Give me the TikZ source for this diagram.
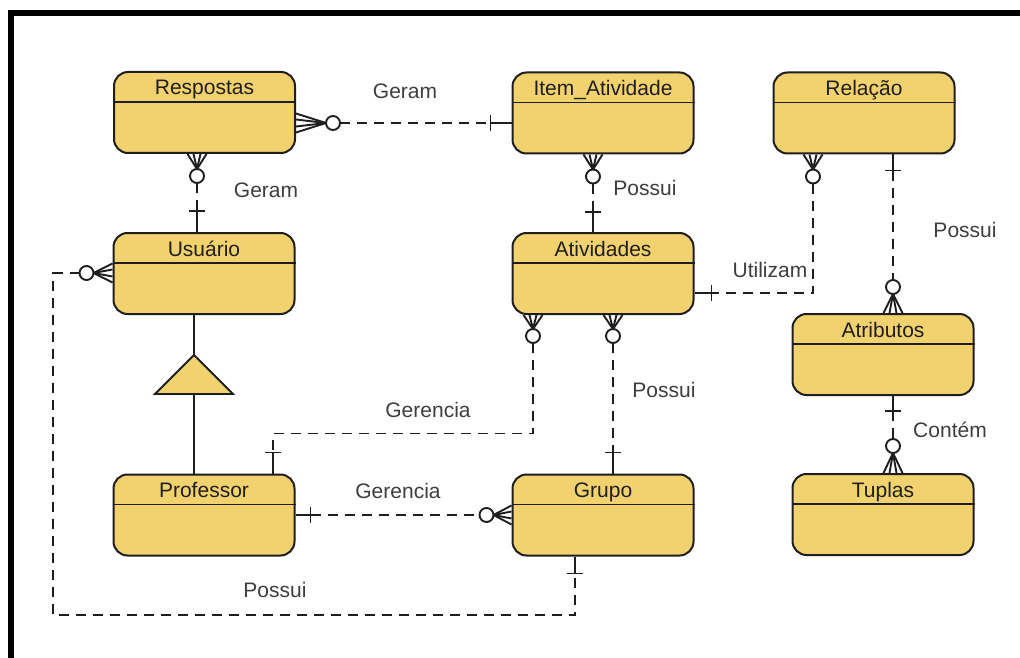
\documentclass[tikz,border=0pt]{standalone}
\usepackage{fontspec}
\setmainfont{Liberation Sans}
\usetikzlibrary{calc}

\definecolor{entfill}{RGB}{242,210,110}
\definecolor{inkline}{RGB}{30,30,30}
\definecolor{labelgray}{RGB}{62,62,62}

\tikzset{
  entbox/.style={draw=inkline, line width=2pt, fill=entfill, rounded corners=14pt,
    minimum width=181pt, minimum height=81pt, inner sep=0pt},
  enttitle/.style={text=black!88, font=\fontsize{21}{24}\selectfont, inner sep=0pt,
    text height=15pt, text depth=0pt},
  rellabel/.style={text=labelgray, font=\fontsize{21}{24}\selectfont, inner sep=0pt,
    text height=15pt, text depth=0pt},
  relline/.style={draw=inkline, line width=1.9pt, dash pattern=on 10pt off 7pt},
  solidline/.style={draw=inkline, line width=1.9pt},
}

% entity: name, centre, title
\newcommand\erentity[3]{%
  \node[entbox] (#1) at (#2) {};
  \draw[inkline, line width=1.8pt] ([yshift=-31pt]#1.north west) -- ([yshift=-31pt]#1.north east);
  \node[enttitle] (#1-t) at ([yshift=-16.5pt]#1.north) {#3};
}

% zero-or-many end: attachment point, outward angle, circle distance
\newcommand\manyend[3]{%
  \begin{scope}[shift={(#1)}, rotate=#2]
    \draw[solidline] (0,9.5) -- (#3-7,0) -- (0,-9.5);
    \draw[solidline] (0,3.5) -- (#3-7,0) -- (0,-3.5);
    \draw[solidline, fill=white] (#3,0) circle[radius=7pt];
    \coordinate (#1-o) at (#3+7,0);
  \end{scope}}

% exactly-one end: attachment point, outward angle, bar distance
\newcommand\oneend[3]{%
  \begin{scope}[shift={(#1)}, rotate=#2]
    \draw[solidline] (#3,8) -- (#3,-8);
    \draw[solidline] (0,0) -- (#3,0);
    \coordinate (#1-b) at (#3,0);
  \end{scope}}

\begin{document}
\begin{tikzpicture}[x=1pt, y=-1pt]
  \useasboundingbox (0,0) rectangle (1020,658);
  \fill[white] (0,0) rectangle (1020,658);

  % frame bars
  \fill[black] (8,10) rectangle (1020,16);
  \fill[black] (8,10) rectangle (14,658);

  % entities
  \erentity{resp}{204.5,112.5}{Respostas}
  \erentity{item}{603,113}{Item\_Atividade}
  \erentity{rel}{864,113}{Relação}
  \erentity{usu}{204,273.5}{Usuário}
  \erentity{ativ}{603,273.5}{Atividades}
  \erentity{atr}{883,354.5}{Atributos}
  \erentity{prof}{204,515}{Professor}
  \erentity{grp}{603,515}{Grupo}
  \erentity{tup}{883,514.5}{Tuplas}

  % Respostas -- Item_Atividade
  \coordinate (a1) at ($(resp.east)+(0,10.5)$);
  \coordinate (a2) at ($(item.west)+(0,10)$);
  \manyend{a1}{0}{37}
  \oneend{a2}{180}{21}
  \draw[relline] (a1-o) -- (a2-b);

  % Respostas -- Usuario
  \coordinate (b1) at ($(resp.south)+(-7.5,0)$);
  \coordinate (b2) at ($(usu.north)+(-7,0)$);
  \manyend{b1}{-90}{22}
  \oneend{b2}{90}{21}
  \draw[relline] (b1-o) -- (b2-b);

  % Item_Atividade -- Atividades
  \coordinate (c1) at ($(item.south)+(-10,0)$);
  \coordinate (c2) at ($(ativ.north)+(-10,0)$);
  \manyend{c1}{-90}{22}
  \oneend{c2}{90}{20}
  \draw[relline] (c1-o) -- (c2-b);

  % Relacao -- Atividades
  \coordinate (d1) at ($(rel.south)+(-51,0)$);
  \coordinate (d2) at ($(ativ.east)+(0,19.5)$);
  \manyend{d1}{-90}{22}
  \oneend{d2}{0}{17}
  \draw[relline] (d1-o) |- (d2-b);

  % Relacao -- Atributos
  \coordinate (e1) at ($(rel.south)+(29,0)$);
  \coordinate (e2) at ($(atr.north)+(10,0)$);
  \oneend{e1}{-90}{16}
  \manyend{e2}{90}{26}
  \draw[relline] (e1-b) -- (e2-o);

  % Atributos -- Tuplas
  \coordinate (f1) at ($(atr.south)+(10,0)$);
  \coordinate (f2) at ($(tup.north)+(10,0)$);
  \oneend{f1}{-90}{15}
  \manyend{f2}{90}{27}
  \draw[relline] (f1-b) -- (f2-o);

  % Usuario -- Grupo
  \coordinate (g1) at ($(usu.west)+(0,-0.5)$);
  \coordinate (g2) at ($(grp.south)+(-28,0)$);
  \coordinate (gcorner) at (53,615);
  \manyend{g1}{180}{26}
  \oneend{g2}{-90}{17}
  \draw[relline] (g1-o) -| (gcorner) -| (g2-b);

  % Atividades -- Professor
  \coordinate (h1) at ($(ativ.south)+(-70,0)$);
  \coordinate (h2) at ($(prof.north)+(69,0)$);
  \manyend{h1}{-90}{21}
  \oneend{h2}{90}{21}
  \draw[relline] (h1-o) |- ($(h2-b)+(0,-19)$) -- (h2-b);

  % Atividades -- Grupo
  \coordinate (i1) at ($(ativ.south)+(10,0)$);
  \coordinate (i2) at ($(grp.north)+(10,0)$);
  \manyend{i1}{-90}{21}
  \oneend{i2}{90}{21}
  \draw[relline] (i1-o) -- (i2-b);

  % Professor -- Grupo
  \coordinate (j1) at (prof.east);
  \coordinate (j2) at (grp.west);
  \oneend{j1}{0}{15}
  \manyend{j2}{180}{25}
  \draw[relline] (j1-b) -- (j2-o);

  % generalisation Usuario -> Professor
  \coordinate (isatop) at (194,355);
  \coordinate (isabase) at (194,394);
  \draw[solidline] ($(usu.south)+(-10,0)$) -- (isatop);
  \draw[solidline, fill=entfill, line join=miter] (isatop) -- (233,394) -- (155,394) -- cycle;
  \draw[solidline] (isabase) -- ($(prof.north)+(-10,0)$);

  % relationship labels
  \node[rellabel] (lab1) at (405,91) {Geram};
  \node[rellabel] (lab2) at (266,190) {Geram};
  \node[rellabel] (lab3) at (645,188) {Possui};
  \node[rellabel] (lab4) at (770,270) {Utilizam};
  \node[rellabel] (lab5) at (965,230) {Possui};
  \node[rellabel] (lab6) at (950,430) {Contém};
  \node[rellabel] (lab7) at (428,410) {Gerencia};
  \node[rellabel] (lab8) at (664,390) {Possui};
  \node[rellabel] (lab9) at (398,491) {Gerencia};
  \node[rellabel] (lab10) at (275,590) {Possui};
\end{tikzpicture}
\end{document}
